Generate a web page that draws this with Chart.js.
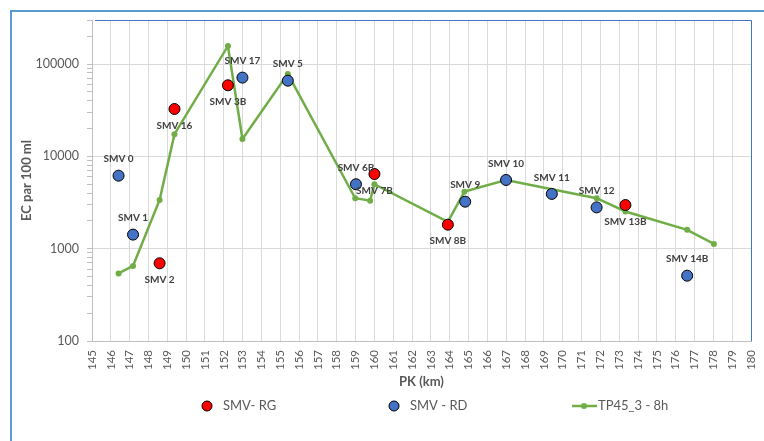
<!DOCTYPE html>
<html>
<head>
<meta charset="utf-8">
<script src="https://cdn.jsdelivr.net/npm/chart.js@4.4.0/dist/chart.umd.min.js"></script>
<style>
  html, body { margin: 0; padding: 0; background: #fff; }
  canvas { display: block; }
</style>
</head>
<body>
<canvas id="chart" width="764" height="441"></canvas>
<script>
// SMV - RG (red points)
const rgNames = ['SMV 2', 'SMV 16', 'SMV 3B', 'SMV 7B', 'SMV 8B', 'SMV 13B'];
const rgKm = [148.59, 149.38, 152.22, 160.0, 163.9, 173.33];
const rgEc = [695, 32600, 58900, 6440, 1820, 2970];

// SMV - RD (blue points)
const rdNames = ['SMV 0', 'SMV 1', 'SMV 17', 'SMV 5', 'SMV 6B', 'SMV 9', 'SMV 10', 'SMV 11', 'SMV 12', 'SMV 14B'];
const rdKm = [146.41, 147.18, 152.99, 155.40, 159.02, 164.82, 166.99, 169.42, 171.8, 176.61];
const rdEc = [6180, 1420, 71300, 66100, 4990, 3230, 5550, 3920, 2800, 510];

// TP45_3 - 8h (green line)
const tpKm = [146.41, 147.18, 148.59, 149.38, 152.22, 152.99, 155.40, 158.98, 159.77, 160.0, 163.9, 164.78, 166.99, 171.8, 173.33, 176.61, 178.03];
const tpEc = [540, 650, 3370, 17400, 157000, 15400, 78200, 3520, 3310, 4990, 1950, 4150, 5550, 3520, 2530, 1600, 1125];

// axes
const xMin = 145, xMax = 180;
const yMin = 100, yMax = 300000;
const yMajor = [100, 1000, 10000, 100000];

const FONT = 'Lato';
const GREY = '#595959';

const toPoints = (xs, ys) => xs.map((x, i) => ({ x: x, y: ys[i] }));

// outer frame + plot border (top/right)
const framePlugin = {
    id: 'frame',
    beforeDraw(chart) {
        const ctx = chart.ctx;
        ctx.save();
        ctx.fillStyle = '#fff';
        ctx.fillRect(0, 0, chart.width, chart.height);
        ctx.fillStyle = '#5b9bd5';
        ctx.fillRect(10, 10, chart.width - 10, 2);
        ctx.fillRect(10, 10, 2, chart.height - 10);
        ctx.restore();
    },
    afterDraw(chart) {
        const { ctx, chartArea: a } = chart;
        ctx.save();
        ctx.strokeStyle = '#4472c4';
        ctx.lineWidth = 1;
        ctx.beginPath();
        ctx.moveTo(a.left + 3, a.top + 0.5);
        ctx.lineTo(a.right + 0.5, a.top + 0.5);
        ctx.lineTo(a.right + 0.5, a.bottom);
        ctx.stroke();
        ctx.restore();
    }
};

// point names above (blue) or below (red) the markers
const pointLabels = {
    id: 'pointLabels',
    afterDatasetsDraw(chart) {
        const ctx = chart.ctx;
        ctx.save();
        ctx.font = 'bold 10px ' + FONT;
        ctx.fillStyle = '#404040';
        ctx.textAlign = 'center';
        ctx.textBaseline = 'middle';
        chart.data.datasets.forEach((ds, i) => {
            if (!ds.names) return;
            chart.getDatasetMeta(i).data.forEach((pt, j) => {
                ctx.fillText(ds.names[j], pt.x, pt.y + ds.labelShift);
            });
        });
        ctx.restore();
    }
};

// legend drawn by hand so the item spacing matches
const legendSlots = [207, 394, 584];
const customLegend = {
    id: 'customLegend',
    afterDraw(chart) {
        const ctx = chart.ctx;
        const y = 406;
        ctx.save();
        ctx.font = '13px ' + FONT;
        ctx.textBaseline = 'middle';
        ctx.textAlign = 'left';
        chart.data.datasets.forEach((ds, i) => {
            const cx = legendSlots[i];
            let tx;
            if (ds.showLine) {
                ctx.strokeStyle = ds.borderColor;
                ctx.lineWidth = ds.borderWidth;
                ctx.beginPath();
                ctx.moveTo(cx - 12, y);
                ctx.lineTo(cx + 13, y);
                ctx.stroke();
                ctx.fillStyle = ds.pointBackgroundColor;
                ctx.beginPath();
                ctx.arc(cx, y, 3, 0, Math.PI * 2);
                ctx.fill();
                tx = cx + 14;
            } else {
                ctx.fillStyle = ds.backgroundColor;
                ctx.strokeStyle = ds.borderColor;
                ctx.lineWidth = 1;
                ctx.beginPath();
                ctx.arc(cx, y, 5, 0, Math.PI * 2);
                ctx.fill();
                ctx.stroke();
                tx = cx + 16;
            }
            ctx.fillStyle = GREY;
            ctx.fillText(ds.label, tx, y);
        });
        ctx.restore();
    }
};

new Chart(document.getElementById('chart'), {
    type: 'scatter',
    data: {
        datasets: [
            {
                label: 'SMV- RG',
                data: toPoints(rgKm, rgEc),
                names: rgNames,
                labelShift: 16.5,
                backgroundColor: '#ff0000',
                borderColor: '#000000',
                borderWidth: 1,
                pointRadius: 5.5,
                showLine: false
            },
            {
                label: 'SMV - RD',
                data: toPoints(rdKm, rdEc),
                names: rdNames,
                labelShift: -16.5,
                backgroundColor: '#4472c4',
                borderColor: '#000000',
                borderWidth: 1,
                pointRadius: 5.5,
                showLine: false
            },
            {
                label: 'TP45_3 - 8h',
                data: toPoints(tpKm, tpEc),
                showLine: true,
                borderColor: '#70ad47',
                borderWidth: 2.5,
                backgroundColor: '#70ad47',
                pointBackgroundColor: '#70ad47',
                pointBorderWidth: 0,
                pointRadius: 3,
                tension: 0
            }
        ]
    },
    options: {
        responsive: false,
        animation: false,
        devicePixelRatio: 1,
        layout: {
            padding: { left: 12, top: 20, right: 13, bottom: 50 }
        },
        plugins: {
            legend: { display: false },
            tooltip: { enabled: false }
        },
        scales: {
            x: {
                type: 'linear',
                min: xMin,
                max: xMax,
                afterFit: (scale) => {
                    scale.height = 50;
                    scale.paddingLeft = 0;
                    scale.paddingRight = 0;
                },
                ticks: {
                    stepSize: 1,
                    autoSkip: false,
                    maxRotation: 90,
                    minRotation: 90,
                    padding: 9,
                    color: GREY,
                    font: { family: FONT, size: 11.5 },
                    callback: (v) => String(v)
                },
                grid: { color: '#d9d9d9', drawTicks: false },
                border: { color: '#bfbfbf' },
                title: {
                    display: true,
                    text: 'PK (km)',
                    color: GREY,
                    font: { family: FONT, size: 13, weight: 'bold' },
                    padding: { top: 0, bottom: 1 }
                }
            },
            y: {
                type: 'logarithmic',
                min: yMin,
                max: yMax,
                afterFit: (scale) => { scale.width = 80; },
                afterBuildTicks: (scale) => {
                    const t = [];
                    yMajor.forEach(d => {
                        for (let m = 1; m <= 9; m++) {
                            if (d * m <= yMax) t.push({ value: d * m });
                        }
                    });
                    scale.ticks = t;
                },
                ticks: {
                    autoSkip: false,
                    padding: 8,
                    color: GREY,
                    font: { family: FONT, size: 12.5 },
                    callback: (v) => yMajor.includes(v) ? String(v) : ''
                },
                grid: {
                    color: (c) => (c.tick && yMajor.includes(c.tick.value)) ? '#d9d9d9' : 'rgba(0,0,0,0)',
                    tickColor: '#bfbfbf',
                    tickLength: 5
                },
                border: { color: '#bfbfbf' },
                title: {
                    display: true,
                    text: 'EC par 100 ml',
                    color: GREY,
                    font: { family: FONT, size: 13, weight: 'bold' },
                    padding: { top: 7, bottom: 0 }
                }
            }
        }
    },
    plugins: [framePlugin, pointLabels, customLegend]
});
</script>
</body>
</html>
